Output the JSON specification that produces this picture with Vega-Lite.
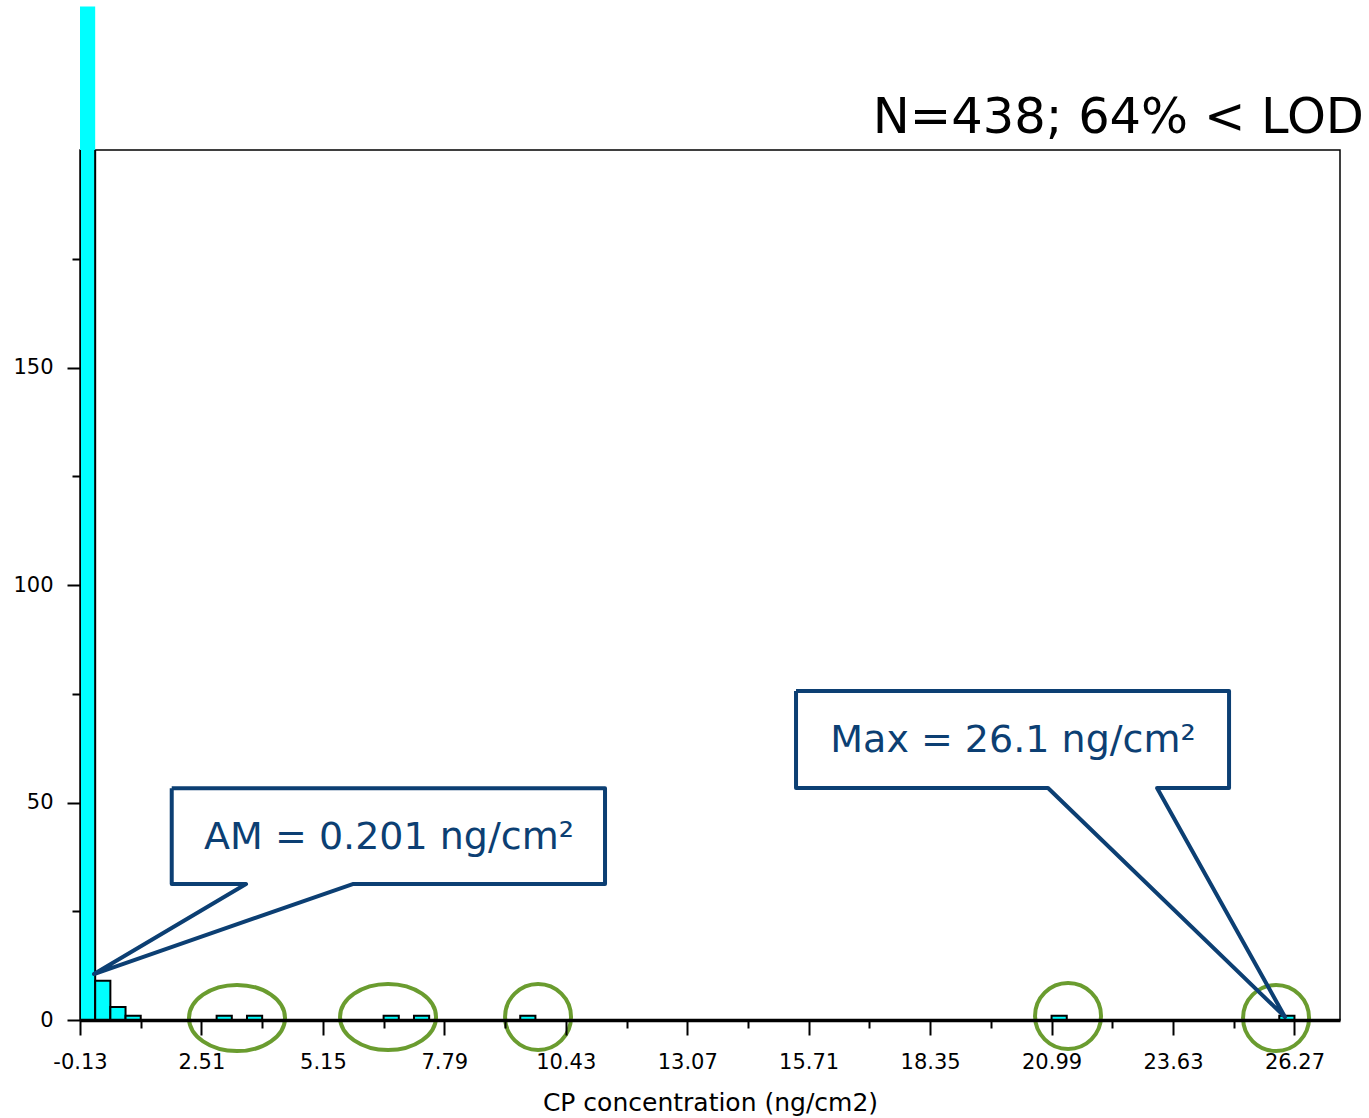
{
  "$schema": "https://vega.github.io/schema/vega-lite/v6.json",
  "width": 1260,
  "height": 870,
  "autosize": "none",
  "padding": {"left": 80, "top": 150, "right": 29, "bottom": 98},
  "background": "white",
  "config": {"view": {"stroke": "black", "strokeWidth": 1.5}, "font": "DejaVu Sans"},
  "title": {"text": "N=438; 64% < LOD", "anchor": "end", "frame": "group", "font": "DejaVu Sans", "fontSize": 49.5, "fontWeight": "normal", "color": "black", "dx": 24, "baseline": "alphabetic", "offset": -176},
  "datasets": {
    "bins": [
      {"conc": -0.13, "conc_end": 0.20, "count": 233},
      {"conc": 0.20, "conc_end": 0.53, "count": 9},
      {"conc": 0.53, "conc_end": 0.86, "count": 3},
      {"conc": 0.86, "conc_end": 1.19, "count": 1},
      {"conc": 2.84, "conc_end": 3.17, "count": 1},
      {"conc": 3.50, "conc_end": 3.83, "count": 1},
      {"conc": 6.47, "conc_end": 6.80, "count": 1},
      {"conc": 7.13, "conc_end": 7.46, "count": 1},
      {"conc": 9.44, "conc_end": 9.77, "count": 1},
      {"conc": 20.99, "conc_end": 21.32, "count": 1},
      {"conc": 25.94, "conc_end": 26.27, "count": 1}
    ],
    "rings": [
      {"kind": "wide", "conc": 3.283, "count": 0.46},
      {"kind": "wide", "conc": 6.566, "count": 0.69},
      {"kind": "round", "conc": 9.827, "count": 0.69},
      {"kind": "round", "conc": 21.348, "count": 0.92},
      {"kind": "round", "conc": 25.87, "count": 0.46}
    ],
    "callouts": [
      {"callout": "AM", "vertex": 0, "conc": 1.864, "count": 53.26},
      {"callout": "AM", "vertex": 1, "conc": 11.283, "count": 53.26},
      {"callout": "AM", "vertex": 2, "conc": 11.283, "count": 31.26},
      {"callout": "AM", "vertex": 3, "conc": 5.798, "count": 31.26},
      {"callout": "AM", "vertex": 4, "conc": 0.174, "count": 10.57},
      {"callout": "AM", "vertex": 5, "conc": 3.479, "count": 31.26},
      {"callout": "AM", "vertex": 6, "conc": 1.864, "count": 31.26},
      {"callout": "AM", "vertex": 7, "conc": 1.864, "count": 53.26},
      {"callout": "Max", "vertex": 0, "conc": 15.435, "count": 75.63},
      {"callout": "Max", "vertex": 1, "conc": 24.848, "count": 75.63},
      {"callout": "Max", "vertex": 2, "conc": 24.848, "count": 53.33},
      {"callout": "Max", "vertex": 3, "conc": 23.283, "count": 53.33},
      {"callout": "Max", "vertex": 4, "conc": 26.065, "count": 0.69},
      {"callout": "Max", "vertex": 5, "conc": 20.913, "count": 53.33},
      {"callout": "Max", "vertex": 6, "conc": 15.435, "count": 53.33},
      {"callout": "Max", "vertex": 7, "conc": 15.435, "count": 75.63}
    ],
    "notes": [
      {"text": "AM = 0.201 ng/cm²", "conc": 6.587, "count": 41.84},
      {"text": "Max = 26.1 ng/cm²", "conc": 20.152, "count": 64.14}
    ]
  },
  "encoding": {
    "x": {
      "field": "conc", "type": "quantitative",
      "scale": {"domain": [-0.13, 27.26], "nice": false, "zero": false},
      "axis": {
        "values": [-0.13, 1.19, 2.51, 3.83, 5.15, 6.47, 7.79, 9.11, 10.43, 11.75, 13.07, 14.39, 15.71, 17.03, 18.35, 19.67, 20.99, 22.31, 23.63, 24.95, 26.27],
        "labelExpr": "abs((datum.value + 0.13) / 2.64 - round((datum.value + 0.13) / 2.64)) < 0.05 ? replace(format(datum.value, '.2f'), '−', '-') : ''",
        "tickSize": {"condition": {"test": "abs((datum.value + 0.13) / 2.64 - round((datum.value + 0.13) / 2.64)) < 0.05", "value": 15}, "value": 8},
        "tickColor": "black", "tickWidth": 2,
        "domainColor": "black", "domainWidth": 3.5,
        "labelFont": "DejaVu Sans", "labelFontSize": 21, "labelColor": "black", "labelPadding": 16,
        "labelFlush": false, "labelOverlap": false,
        "title": "CP concentration (ng/cm2)", "titleFont": "DejaVu Sans", "titleFontSize": 25, "titleFontWeight": "normal", "titleColor": "black", "titlePadding": 18,
        "grid": false, "zindex": 1
      }
    },
    "y": {
      "field": "count", "type": "quantitative",
      "scale": {"domain": [0, 200], "nice": false, "zero": true},
      "axis": {
        "values": [0, 25, 50, 75, 100, 125, 150, 175],
        "labelExpr": "datum.value % 50 === 0 ? datum.label : ''",
        "tickSize": {"condition": {"test": "datum.value % 50 === 0", "value": 13}, "value": 8},
        "tickColor": "black", "tickWidth": 2,
        "domain": false,
        "labelFont": "DejaVu Sans", "labelFontSize": 21, "labelColor": "black", "labelPadding": 14,
        "title": null, "grid": false
      }
    }
  },
  "layer": [
    {
      "data": {"name": "bins"},
      "mark": {"type": "bar", "color": "#00ffff", "strokeWidth": 0, "clip": false},
      "encoding": {"x2": {"field": "conc_end"}, "y2": {"datum": 0}}
    },
    {
      "data": {"name": "bins"},
      "mark": {"type": "bar", "fill": "#00ffff", "stroke": "black", "strokeWidth": 2, "clip": true},
      "encoding": {"x2": {"field": "conc_end"}, "y2": {"datum": 0}}
    },
    {
      "data": {"name": "rings"},
      "transform": [{"filter": "datum.kind === 'wide'"}],
      "mark": {"type": "point", "shape": "M-1,0A1,0.69 0 1,1 1,0A1,0.69 0 1,1 -1,0Z", "size": 9216, "filled": false, "color": "#6a9c2f", "strokeWidth": 4, "opacity": 1}
    },
    {
      "data": {"name": "rings"},
      "transform": [{"filter": "datum.kind === 'round'"}],
      "mark": {"type": "point", "shape": "M-1,0A1,1 0 1,1 1,0A1,1 0 1,1 -1,0Z", "size": 4356, "filled": false, "color": "#6a9c2f", "strokeWidth": 4, "opacity": 1}
    },
    {
      "data": {"name": "callouts"},
      "mark": {"type": "line", "color": "#0c3f73", "strokeWidth": 4, "strokeJoin": "round"},
      "encoding": {
        "detail": {"field": "callout", "type": "nominal"},
        "order": {"field": "vertex", "type": "quantitative"}
      }
    },
    {
      "data": {"name": "notes"},
      "mark": {"type": "text", "font": "DejaVu Sans", "fontSize": 38, "color": "#0c3f73", "align": "center", "baseline": "middle"},
      "encoding": {"text": {"field": "text", "type": "nominal"}}
    }
  ]
}
